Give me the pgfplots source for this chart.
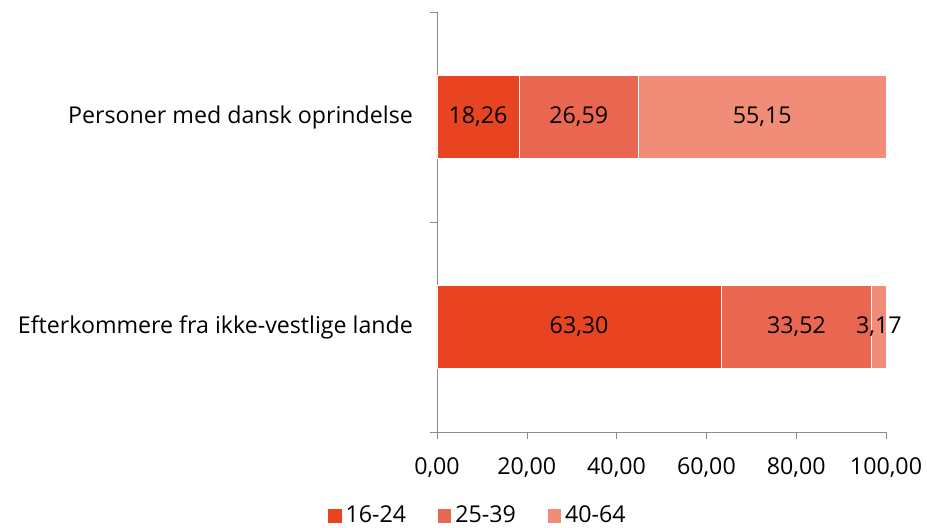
\documentclass[border=0pt]{standalone}
\usepackage{pgfplots}
\pgfplotsset{compat=1.18}
\usepackage{fontspec}
\setmainfont{Open Sans}
\definecolor{agea}{RGB}{233,68,34}
\definecolor{ageb}{RGB}{233,102,80}
\definecolor{agec}{RGB}{240,140,120}
\definecolor{axgray}{RGB}{140,140,140}

\begin{document}
\begin{tikzpicture}
\begin{axis}[
    name=main,
    xbar stacked,
    scale only axis,
    width=224.5pt, height=210pt,
    xmin=0, xmax=100,
    ymin=-0.5, ymax=1.5,
    bar width=41.5pt,
    axis lines=left,
    axis line style={draw=axgray, -},
    tick style={draw=axgray},
    tick align=outside,
    major tick length=3.5pt,
    xtick={0,20,40,60,80,100},
    ytick={-0.5,0.5,1.5},
    yticklabels={},
    extra y ticks={0,1},
    extra y tick labels={Efterkommere fra ikke-vestlige lande, Personer med dansk oprindelse},
    extra y tick style={major tick style={draw=none}, yticklabel style={xshift=-5pt}},
    font=\fontsize{11.6}{14}\selectfont,
    /pgf/number format/.cd, fixed, fixed zerofill, precision=2, use comma, assume math mode=true,
    /pgfplots/.cd,
    x tick label style={yshift=-6pt},
    legend style={draw=none, at={(0.0935,-0.2)}, anchor=center, legend columns=-1,
        /tikz/every even column/.append style={column sep=14pt},
        font=\fontsize{11.6}{14}\selectfont},
    legend image code/.code={\fill[#1, draw=none] (0pt,-3.3pt) rectangle (6.6pt,3.3pt);},
]
\coordinate (sw) at (rel axis cs:0,0);
\addplot[fill=agea, draw=white, line width=0.4pt] coordinates {(63.30,0) (18.26,1)};
\addplot[fill=ageb, draw=white, line width=0.4pt] coordinates {(33.52,0) (26.59,1)};
\addplot[fill=agec, draw=white, line width=0.4pt] coordinates {(3.17,0) (55.15,1)};
\legend{16-24, 25-39, 40-64}
\end{axis}
% value labels, centred in each segment
\begin{axis}[
    at={(main.south west)}, anchor=south west,
    scale only axis,
    width=224.5pt, height=210pt,
    xmin=0, xmax=100,
    ymin=-0.5, ymax=1.5,
    hide axis,
    font=\fontsize{11.6}{14}\selectfont,
]
\addplot[only marks, mark=none, nodes near coords, point meta=explicit symbolic,
    every node near coord/.append style={anchor=center, text=black, font=\fontsize{11.6}{14}\selectfont}]
    coordinates {
    (9.13,1) [18,26] (31.555,1) [26,59] (72.425,1) [55,15]
    (31.65,0) [63,30] (80.06,0) [33,52] (98.415,0) [3,17]
    };
\end{axis}
\pgfresetboundingbox
\path (sw) ++(-218.5pt,-48pt) rectangle ++(463.5pt,264pt);
\end{tikzpicture}
\end{document}
